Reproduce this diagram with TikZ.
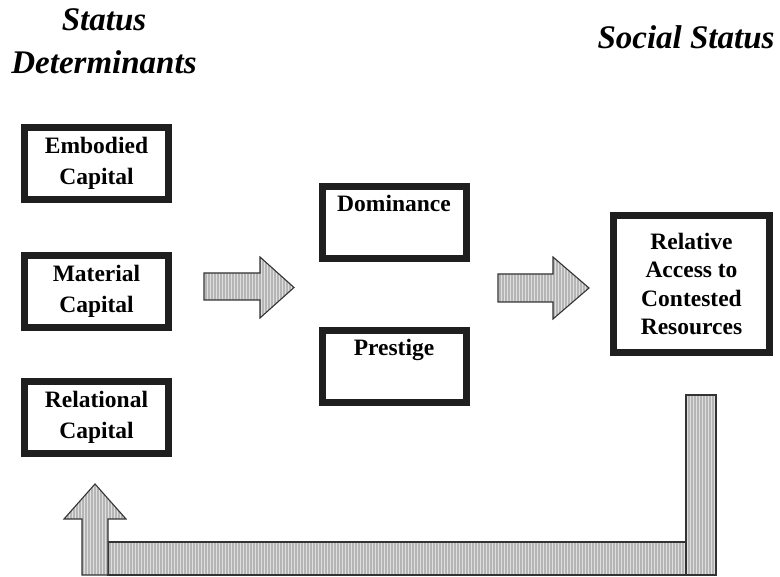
\documentclass[tikz,border=0pt]{standalone}
\usepackage{fontspec}
\setmainfont{Liberation Serif}
\usepackage{tikz}
\usetikzlibrary{patterns, positioning}

\tikzset{
  capbox/.style={draw=black!88, line width=7pt, align=center, inner sep=0pt,
    minimum width=144pt, minimum height=72pt,
    font=\fontsize{23.5}{31}\selectfont\bfseries},
  stripes/.style={draw=black!80, line width=1.1pt, line join=miter,
    preaction={fill=gray!58},
    preaction={pattern=vertical lines, pattern color=white!75!gray}},
  heading/.style={align=center, font=\fontsize{33}{43}\selectfont\bfseries\itshape}
}

\begin{document}
\begin{tikzpicture}[x=1pt, y=-1pt]
        \useasboundingbox (0,0) rectangle (780,577);

        % Titres
        \node[heading, anchor=base] (det) at (104,74) {Status\\Determinants};
        \node[heading, anchor=base] (soc) at (686,49) {Social Status};

        % Capitaux
        \node[capbox] (emb) at (96.5,163.5) {Embodied\\Capital};
        \node[capbox] (mat) at (96.5,291.5) {Material\\Capital};
        \node[capbox] (rel) at (96.5,417.5) {Relational\\Capital};

        % Dominance / prestige
        \node[capbox, anchor=north] (dom) at (394,183.5) {Dominance\\\strut};
        \node[capbox, anchor=north] (pre) at (394,327.5) {Prestige\\\strut};

        % Acces relatif
        \node[capbox, minimum width=156pt, minimum height=137pt,
              font=\fontsize{23.5}{28.5}\selectfont\bfseries] (acc) at (691.5,284)
              {Relative\\Access to\\Contested\\Resources};

        % Grosses fleches
        \draw[stripes] (204,273) -- (260,273) -- (260,257) -- (294,287.5)
              -- (260,318) -- (260,300) -- (204,300) -- cycle;
        \draw[stripes] (498,274) -- (553,274) -- (553,257) -- (589,288)
              -- (553,319) -- (553,302) -- (498,302) -- cycle;

        % Retour
        \coordinate (up) at (95,484);
        \coordinate (down) at (701,395);
        \draw[stripes] (686,542) rectangle (108,575);
        \draw[stripes] ([xshift=-15pt]down) -- ([xshift=15pt]down)
              -- (716,575) -- (686,575) -- cycle;
        \draw[stripes] (up) -- (126,519) -- (108,519) -- (108,575) -- (82,575)
              -- (82,519) -- (64,519) -- cycle;
    \end{tikzpicture}
\end{document}
